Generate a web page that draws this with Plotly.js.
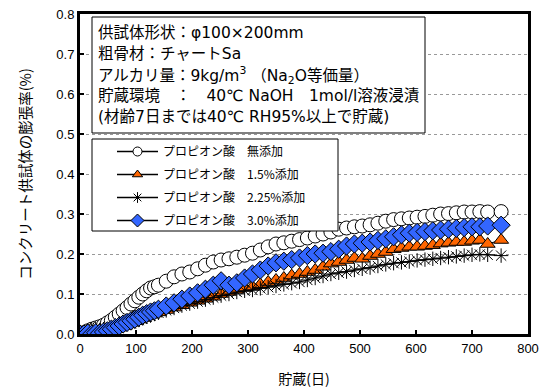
<!DOCTYPE html>
<html>
<head>
<meta charset="utf-8">
<script src="https://cdn.plot.ly/plotly-3.0.1.min.js"></script>
<style>html,body{margin:0;padding:0;background:#fff;}#chart{width:547px;height:389px;}</style>
</head>
<body>
<div id="chart"></div>
<script>
// Storage days (x)
const days = [0,7,14,21,28,35,42,49,56,63,70,77,84,91,98,105,112,119,126,133,140,
  154,168,182,196,210,224,238,252,266,280,
  294,308,322,336,350,364,378,392,406,420,
  434,448,462,476,490,504,518,532,546,560,
  574,588,602,616,630,644,658,672,686,700,
  714,728,752];

// Expansion (%) - プロピオン酸 無添加
const noAdd = [0,0.003,0.008,0.012,0.015,0.018,0.022,0.028,0.034,0.042,0.050,0.058,0.066,0.075,0.083,0.092,0.100,0.108,0.115,0.118,0.122,
  0.132,0.143,0.150,0.155,0.163,0.172,0.180,0.185,0.188,0.192,
  0.197,0.202,0.210,0.218,0.225,0.228,0.232,0.236,0.240,0.245,
  0.250,0.255,0.262,0.265,0.268,0.270,0.273,0.277,0.282,0.286,
  0.288,0.290,0.292,0.294,0.297,0.300,0.301,0.303,0.305,0.305,
  0.306,0.305,0.306];

// 1.5%添加
const add15 = [0,0.002,0.005,0.004,0.006,0.005,0.006,0.008,0.010,0.013,0.016,0.020,0.024,0.028,0.032,0.036,0.040,0.044,0.048,0.051,0.054,
  0.060,0.066,0.072,0.078,0.083,0.088,0.093,0.100,0.105,0.110,
  0.115,0.118,0.124,0.130,0.135,0.140,0.146,0.150,0.155,0.160,
  0.168,0.176,0.180,0.185,0.190,0.188,0.195,0.200,0.205,0.212,
  0.215,0.218,0.218,0.220,0.222,0.226,0.228,0.230,0.230,0.233,
  0.235,0.225,0.235];

// 2.25%添加
const add225 = [0,0.005,0.008,0.010,0.012,0.010,0.012,0.012,0.014,0.016,0.018,0.021,0.024,0.027,0.031,0.035,0.039,0.043,0.046,0.050,0.053,
  0.059,0.065,0.071,0.076,0.081,0.086,0.091,0.096,0.100,0.105,
  0.108,0.110,0.114,0.117,0.120,0.124,0.127,0.130,0.135,0.140,
  0.145,0.150,0.153,0.156,0.160,0.163,0.166,0.170,0.174,0.177,
  0.179,0.181,0.184,0.186,0.188,0.190,0.192,0.194,0.196,0.198,
  0.199,0.198,0.196];

// 3.0%添加
const add30 = [0,0,0.002,0,0.003,0.002,0.005,0.008,0.012,0.016,0.020,0.025,0.029,0.033,0.037,0.042,0.047,0.051,0.055,0.058,0.062,
  0.070,0.078,0.087,0.095,0.103,0.112,0.122,0.133,0.122,0.128,
  0.140,0.150,0.160,0.170,0.178,0.182,0.186,0.190,0.196,0.200,
  0.202,0.206,0.212,0.220,0.225,0.227,0.230,0.234,0.238,0.243,
  0.248,0.252,0.254,0.256,0.258,0.260,0.262,0.264,0.266,0.268,
  0.268,0.270,0.272];

const seriesNames = ['プロピオン酸　無添加','プロピオン酸　1.5%添加','プロピオン酸　2.25%添加','プロピオン酸　3.0%添加'];

const noteLines = [
  '供試体形状：φ100×200mm',
  '粗骨材：チャートSa',
  'アルカリ量：9kg/m<sup>3</sup> （Na<sub>2</sub>O等価量）',
  '貯蔵環境　：　40℃ NaOH　1mol/l溶液浸漬',
  '(材齢7日までは40℃ RH95%以上で貯蔵)'
];

const styles = [
  {symbol:'circle', size:14, color:'#ffffff', lsize:9},
  {symbol:'triangle-up', size:13, color:'#ff6600', lsize:9},
  {symbol:'asterisk-open', size:12, color:'#000000', lsize:9},
  {symbol:'diamond', size:14, color:'#3366ff', lsize:10}
];
const ys = [noAdd, add15, add225, add30];

const traces = [];
ys.forEach((y,i)=>{
  const s = styles[i];
  traces.push({
    x: days, y: y, type:'scatter', mode:'lines+markers', showlegend:false,
    line:{color:'#000', width:1},
    marker:{symbol:s.symbol, size:s.size, color:s.color, line:{color:'#000', width:1}}
  });
});
ys.forEach((y,i)=>{
  const s = styles[i];
  traces.push({
    x:[null], y:[null], type:'scatter', mode:'lines+markers', name: seriesNames[i],
    legendgroup:'g'+i, showlegend:true,
    line:{color:'#000', width:1.3},
    marker:{symbol:s.symbol, size:s.lsize, color:s.color, line:{color:'#000', width:1}}
  });
});

// pixel helpers for annotation/box placement (plot area 80..528 x 14..334)
const px = v => (v-80)/448;
const py = v => (334-v)/320;

const annotations = noteLines.map((t,i)=>({
  xref:'paper', yref:'paper', x:px(96), y:py(33 + i*21), xanchor:'left', yanchor:'middle',
  showarrow:false, text:t, align:'left',
  font:{family:'DejaVu Sans, Noto Sans CJK JP', size:15.5, color:'#000'}
}));

const layout = {
  width:547, height:389,
  margin:{l:80, r:19, t:14, b:55},
  paper_bgcolor:'#fff', plot_bgcolor:'#fff',
  showlegend:true,
  legend:{x:px(112), y:py(137), xanchor:'left', yanchor:'top', bgcolor:'rgba(0,0,0,0)', borderwidth:0,
    font:{family:'Noto Sans CJK JP', size:12, color:'#000'}, itemwidth:41, traceorder:'grouped', tracegroupgap:4},
  xaxis:{range:[0,800], dtick:100, tick0:0, ticks:'inside', ticklen:4, tickwidth:2, tickcolor:'#000',
    showline:true, linewidth:3, linecolor:'#000', mirror:true, showgrid:false, zeroline:false,
    tickfont:{family:'Liberation Sans, Arial', size:13, color:'#000'},
    title:{text:'貯蔵(日)', font:{family:'Noto Sans CJK JP', size:14, color:'#000'}, standoff:20}},
  yaxis:{range:[0,0.8], dtick:0.1, tick0:0, tickformat:'.1f', ticks:'inside', ticklen:4, tickwidth:2, tickcolor:'#000',
    showline:true, linewidth:3, linecolor:'#000', mirror:true, showgrid:true, gridcolor:'#999', griddash:'dot', gridwidth:1, zeroline:false,
    tickfont:{family:'Liberation Sans, Arial', size:13, color:'#000'},
    title:{text:'コンクリート供試体の膨張率(%)', font:{family:'Noto Sans CJK JP', size:14.5, color:'#000'}, standoff:22}},
  shapes:[
    {type:'rect', xref:'paper', yref:'paper', x0:px(92), x1:px(425), y0:py(133), y1:py(17), fillcolor:'#fff', line:{color:'#000', width:1}, layer:'above'},
    {type:'rect', xref:'paper', yref:'paper', x0:px(92), x1:px(338), y0:py(231), y1:py(139), fillcolor:'#fff', line:{color:'#000', width:1}, layer:'above'}
  ],
  annotations: annotations
};

Plotly.newPlot('chart', traces, layout, {staticPlot:true, displayModeBar:false});
</script>
</body>
</html>
